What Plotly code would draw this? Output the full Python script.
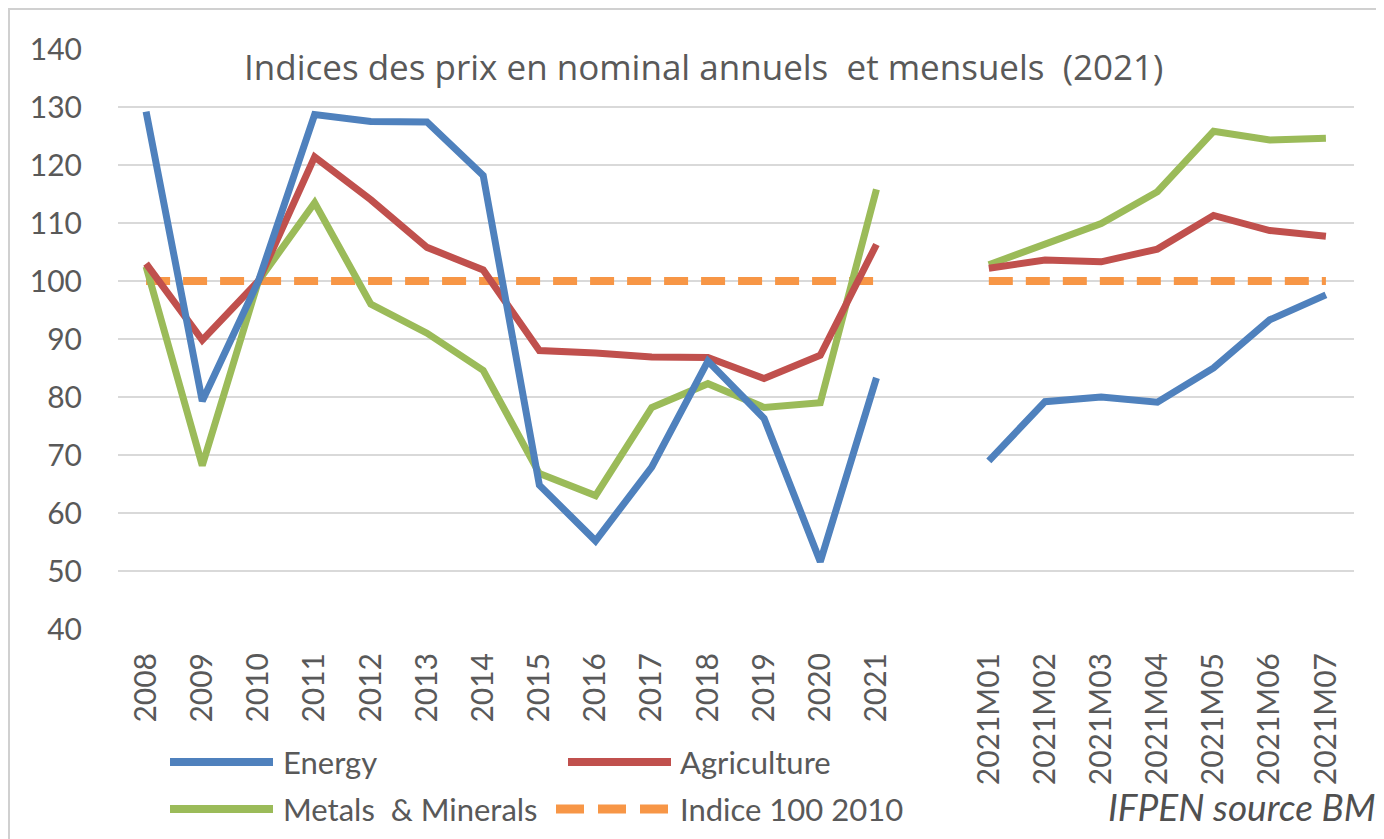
import plotly.graph_objects as go

years = ["2008", "2009", "2010", "2011", "2012", "2013", "2014", "2015", "2016",
         "2017", "2018", "2019", "2020", "2021"]
gap = [" "]
months = ["2021M01", "2021M02", "2021M03", "2021M04", "2021M05", "2021M06", "2021M07"]
categories = years + gap + months

energy_years = [129.2, 79.3, 100.0, 128.7, 127.5, 127.4, 118.2, 64.8, 55.2, 67.9, 86.2, 76.3, 51.6, 83.3]
energy_months = [69.0, 79.2, 80.0, 79.1, 85.0, 93.3, 97.6]

agri_years = [103.0, 89.8, 100.0, 121.4, 114.0, 105.8, 101.9, 88.0, 87.6, 86.9, 86.8, 83.2, 87.2, 106.3]
agri_months = [102.2, 103.6, 103.3, 105.5, 111.3, 108.7, 107.7]

metals_years = [102.5, 68.2, 100.0, 113.5, 96.0, 91.0, 84.6, 66.8, 63.0, 78.2, 82.3, 78.2, 79.0, 115.8]
metals_months = [102.8, 106.4, 109.9, 115.4, 125.8, 124.3, 124.6]

index_years = [100] * len(years)
index_months = [100] * len(months)

title_text = "Indices des prix en nominal annuels  et mensuels  (2021)"
source_text = "IFPEN source BM"

OFF = 8  # page body margin
W, H = 1384 - OFF, 839 - OFF
L, R, T, B = 118 - OFF, 30, 49 - OFF, 210
PW, PH = W - L - R, H - T - B


def px(x):
    return (x - OFF - L) / PW


def py(y):
    return 1 - (y - OFF - T) / PH


def join(a, b):
    return a + [None] + b


BLUE = "#4F81BD"
RED = "#C0504D"
GREEN = "#9BBB59"
ORANGE = "#F79646"
TXT = "#595959"
FONT = "Lato"

fig = go.Figure()
fig.add_trace(go.Scatter(x=categories, y=join(index_years, index_months), mode="lines",
                         line=dict(color=ORANGE, width=8, dash="24px,13px"), name="Indice 100 2010",
                         connectgaps=False))
fig.add_trace(go.Scatter(x=categories, y=join(metals_years, metals_months), mode="lines",
                         line=dict(color=GREEN, width=7), name="Metals  & Minerals", connectgaps=False))
fig.add_trace(go.Scatter(x=categories, y=join(agri_years, agri_months), mode="lines",
                         line=dict(color=RED, width=7), name="Agriculture", connectgaps=False))
fig.add_trace(go.Scatter(x=categories, y=join(energy_years, energy_months), mode="lines",
                         line=dict(color=BLUE, width=7), name="Energy", connectgaps=False))

shapes = []
# outer chart border
shapes.append(dict(type="rect", xref="paper", yref="paper", x0=px(9), x1=px(1400), y0=py(860), y1=py(9),
                   line=dict(color="#d0d0d0", width=2), layer="below"))
# legend samples
legend_items = [
    (170, 273, 762, BLUE, "solid", "Energy", 281),
    (568, 671, 762, RED, "solid", "Agriculture", 678),
    (170, 273, 809, GREEN, "solid", "Metals  & Minerals", 281),
    (556, 670, 809, ORANGE, "dash", "Indice 100 2010", 678),
]
annotations = []
for x0, x1, y, col, ds, label, tx in legend_items:
    if ds == "solid":
        shapes.append(dict(type="line", xref="paper", yref="paper", x0=px(x0), x1=px(x1), y0=py(y), y1=py(y),
                           line=dict(color=col, width=8)))
    else:
        shapes.append(dict(type="line", xref="paper", yref="paper", x0=px(x0), x1=px(x1), y0=py(y), y1=py(y),
                           line=dict(color=col, width=9, dash="28px,14px")))
    annotations.append(dict(text=label, xref="paper", yref="paper", x=px(tx), y=py(y), xanchor="left",
                            yanchor="middle", showarrow=False, font=dict(family=FONT, size=31, color=TXT)))

annotations.append(dict(text=title_text, xref="paper", yref="paper", x=px(703), y=py(66), xanchor="center",
                        yanchor="middle", showarrow=False, font=dict(family="Open Sans", size=35, color=TXT)))
annotations.append(dict(text="<i>" + source_text + "</i>", xref="paper", yref="paper", x=px(1378), y=py(806),
                        xanchor="right", yanchor="middle", showarrow=False,
                        font=dict(family=FONT, size=37, color="#505050")))

fig.update_layout(
    width=W, height=H,
    margin=dict(l=L, r=R, t=T, b=B, autoexpand=False),
    paper_bgcolor="white", plot_bgcolor="white",
    showlegend=False,
    shapes=shapes, annotations=annotations,
    xaxis=dict(type="category", categoryorder="array", categoryarray=categories,
               range=[-0.5, len(categories) - 0.5], showgrid=False, showline=False, zeroline=False,
               tickangle=-90, tickfont=dict(family=FONT, size=30, color=TXT), ticks="",
               ticklabelstandoff=17),
    yaxis=dict(range=[40, 140], dtick=10, tick0=40, showgrid=True, gridcolor="#d9d9d9", gridwidth=2,
               zeroline=False, showline=False, ticks="",
               tickfont=dict(family=FONT, size=30, color=TXT), ticklabelstandoff=35),
)

fig.write_html("out.html")
